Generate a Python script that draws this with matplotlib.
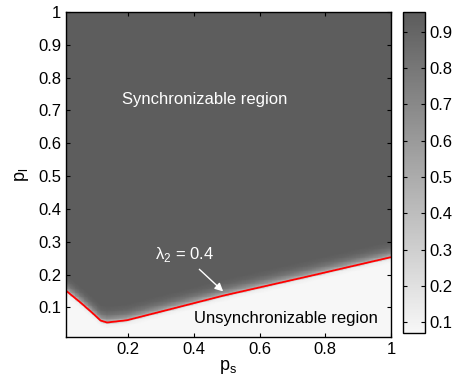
import numpy as np
import matplotlib
matplotlib.use("Agg")
import matplotlib.pyplot as plt
from matplotlib.colors import LinearSegmentedColormap

plt.rcParams["font.family"] = ["Liberation Sans", "DejaVu Sans"]
plt.rcParams["font.size"] = 12

# lambda_2 = 0.4 boundary (p_s -> p_l)
bound_ps = [0.01, 0.054, 0.094, 0.115, 0.135, 0.196, 0.318, 0.49, 0.75, 1.0]
bound_pl = [0.151, 0.115, 0.080, 0.060, 0.054, 0.061, 0.092, 0.136, 0.195, 0.253]

# lambda_2 profile across the boundary (offset in p_l above the line)
prof_off = [-0.02, -0.007, 0.0, 0.01, 0.022, 0.035, 0.05]
prof_val = [0.07, 0.12, 0.4, 0.65, 0.82, 0.91, 0.95]

ps = np.linspace(0.01, 1.0, 400)
pl = np.linspace(0.01, 1.0, 400)
PS, PL = np.meshgrid(ps, pl)
lam2 = np.interp(PL - np.interp(PS, bound_ps, bound_pl), prof_off, prof_val)

cmap = LinearSegmentedColormap.from_list("grey_r", ["#f7f7f7", "#5c5c5c"])

fig = plt.figure(figsize=(4.55, 3.9), dpi=100)
ax = fig.add_axes([66 / 455, 53 / 390, 325 / 455, 325 / 390])
cax = fig.add_axes([403 / 455, 57 / 390, 22 / 455, 321 / 390])

mesh = ax.pcolormesh(PS, PL, lam2, cmap=cmap, vmin=0.07, vmax=0.955, shading="auto")
ax.contour(PS, PL, lam2, levels=[0.4], colors="red", linewidths=1.3)

ax.set_xlim(0.01, 1)
ax.set_ylim(0.01, 1)
ax.set_xticks([0.2, 0.4, 0.6, 0.8, 1])
ax.set_xticklabels(["0.2", "0.4", "0.6", "0.8", "1"])
ax.set_yticks(np.arange(1, 11) / 10)
ax.set_yticklabels(["0.1", "0.2", "0.3", "0.4", "0.5", "0.6", "0.7", "0.8", "0.9", "1"])
ax.tick_params(direction="in", top=True, right=True, length=3, labelsize=12)
ax.set_xlabel(r"p$_\mathregular{s}$", fontsize=13, labelpad=1)
ax.set_ylabel(r"p$_\mathregular{l}$", fontsize=13, labelpad=5)
for s in ax.spines.values():
    s.set_linewidth(1.0)

ax.text(0.431, 0.733, "Synchronizable region", color="white", ha="center", va="center", fontsize=12)
ax.text(0.679, 0.065, "Unsynchronizable region", color="black", ha="center", va="center", fontsize=12)
ax.text(0.371, 0.262, r"λ$_\mathregular{2}$ = 0.4", color="white", ha="center", va="center", fontsize=12)
ax.annotate("", xy=(0.495, 0.143), xytext=(0.41, 0.222),
            arrowprops=dict(arrowstyle="-|>", color="white", lw=1.0, mutation_scale=12))

cb = fig.colorbar(mesh, cax=cax)
cb.set_ticks([0.1, 0.2, 0.3, 0.4, 0.5, 0.6, 0.7, 0.8, 0.9])
cb.ax.tick_params(direction="in", left=True, right=True, length=3, labelsize=12)
cb.outline.set_linewidth(1.0)

fig.savefig("out.png", dpi=100)
